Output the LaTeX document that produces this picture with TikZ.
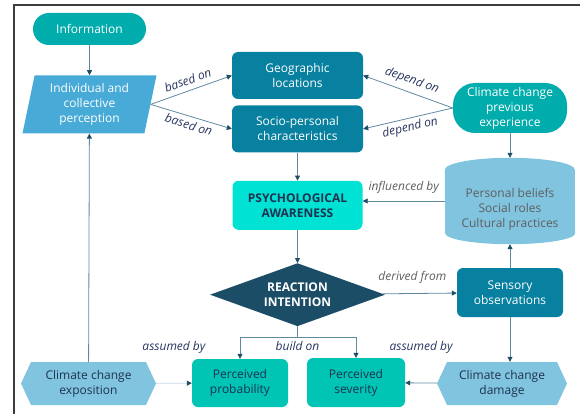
\documentclass[tikz,border=0pt]{standalone}
\usepackage{fontspec}
\setmainfont{Open Sans}
\usepackage{tikz}
\usetikzlibrary{arrows.meta,shapes.geometric,shapes.symbols,positioning,backgrounds}
\definecolor{Teal}{RGB}{0,172,172}
\definecolor{SkyBlue}{RGB}{72,170,214}
\definecolor{DeepTeal}{RGB}{8,128,160}
\definecolor{Aqua}{RGB}{0,226,212}
\definecolor{Navy}{RGB}{27,77,102}
\definecolor{Jade}{RGB}{0,196,180}
\definecolor{PaleBlue}{RGB}{128,196,224}
\definecolor{InkBlue}{RGB}{30,50,80}
\definecolor{LabelBlue}{RGB}{40,52,95}
\definecolor{LabelGray}{RGB}{95,95,95}
\definecolor{LineBlue}{RGB}{95,138,162}
\definecolor{LineLight}{RGB}{200,218,228}
\definecolor{TipBlue}{RGB}{30,78,100}
\definecolor{FrameGray}{RGB}{60,60,60}

\begin{document}
\begin{tikzpicture} [x=1pt, y=-1pt, >={Triangle[length=5pt,width=5pt,color=TipBlue]},
       every node/.style={font=\fontsize{12}{15}\selectfont, align=center},
       box/.style 2 args = {rectangle, rounded corners=6pt, minimum width=#1,
                            minimum height=48pt, inner sep=2pt, fill=#2},
       hexa/.style = {signal, signal to=east and west, signal pointer angle=130,
                      minimum width=#1, minimum height=43pt, inner sep=1pt,
                      fill=PaleBlue, text=InkBlue},
       boldtext/.style = {font=\fontsize{12}{15}\selectfont\bfseries},
       flow/.style = {->, draw=LineBlue, line width=0.8pt},
       lbl/.style = {font=\fontsize{12}{15}\selectfont\itshape, text=LabelBlue},
       lblgray/.style = {lbl, text=LabelGray}]
	\useasboundingbox (0,0) rectangle (580,414);
	\draw[FrameGray, line width=1.5pt] (14,414) -- (14,5) -- (580,5);

	%% Top row
	\node [box={113pt}{Teal}, rounded corners=16pt, minimum height=32pt, text=white] (info) at (89.5,29) {Information};
	\node [trapezium, trapezium left angle=79, trapezium right angle=101, trapezium stretches=true,
	       minimum width=134pt, minimum height=58pt, fill=SkyBlue, text=white,
	       below=30pt of info] (percep) {Individual and\\collective\\perception};
	\node [box={131pt}{DeepTeal}, minimum height=47pt, text=white] (geo) at (297.5,75.5) {Geographic\\locations};
	\node [box={131pt}{DeepTeal}, minimum height=47pt, text=white, below=6pt of geo] (socio) {Socio-personal\\characteristics};
	\node [box={114pt}{Teal}, rounded corners=22pt, minimum height=50pt, text=white] (prev) at (510,108) {Climate change\\previous\\experience};

	%% Middle
	\node [minimum width=130pt, minimum height=86pt,
	       label={[shift={(0pt,-8pt)},text=LabelGray,align=center]center:{Personal beliefs\\Social roles\\Cultural practices}}] (belief) at (510,201) {};
	\begin{scope}[on background layer]
		\fill[PaleBlue] ([yshift=-12pt]belief.north west) arc[start angle=180, end angle=0, x radius=65pt, y radius=12pt]
		      -- ([yshift=11pt]belief.south east) arc[start angle=0, end angle=-180, x radius=65pt, y radius=11pt] -- cycle;
	\end{scope}
	\node [box={130pt}{Aqua}, minimum height=49pt, boldtext, text=InkBlue, below=28pt of socio] (psych) {PSYCHOLOGICAL\\AWARENESS};
	\node [diamond, aspect=2.78, minimum width=175pt, minimum height=63pt, inner sep=0pt,
	       fill=Navy, boldtext, text=white, below=33pt of psych] (react) {REACTION\\INTENTION};
	\node [box={106pt}{DeepTeal}, minimum height=49pt, text=white] (sensory) at (510,292.5) {Sensory\\observations};

	%% Bottom row
	\node [hexa={135pt}] (expo) at (88.5,383.5) {Climate change\\exposition};
	\node [box={96pt}{Jade}, text=InkBlue] (prob) at (240,383) {Perceived\\probability};
	\node [box={98pt}{Jade}, minimum height=49pt, text=InkBlue] (sever) at (356,382.5) {Perceived\\severity};
	\node [hexa={130pt}] (damage) at (502,383.5) {Climate change\\damage};

	%% Simple paths
	\draw[flow] (info) -- (percep);
	\draw[flow] (percep.east) -- node[lbl,sloped,above=2pt] (bgeo) {based on} (geo.west);
	\draw[flow] (percep.east) -- node[lbl,sloped,below] (bsoc) {based on} (socio.west);
	\draw[flow] (prev.west) -- node[lbl,sloped,above=2pt] (dgeo) {depend on} (geo.east);
	\draw[flow] (prev.west) -- node[lbl,sloped,below] (dsoc) {depend on} (socio.east);
	\draw[flow] (prev) -- (belief);
	\draw[flow] (belief) -- node[lblgray,above=4pt] (infl) {influenced by} (belief -| psych.east);
	\draw[flow] (socio) -- (psych);
	\draw[flow] (psych) -- (react);
	\draw[flow] (react) -- node[lblgray,above=6pt,pos=0.4] (deriv) {derived from} (sensory);
	\draw[flow] (sensory) -- (belief);
	\draw[flow] (sensory) -- (sensory |- damage.north);
	\draw[flow] (damage) -- node[lbl,above=26pt] (asdam) {assumed by} (sever);
	\draw[flow, draw=LineLight] (expo) -- node[lbl,above=26pt] (asexp) {assumed by} (prob);
	\draw[flow] (expo) -- (percep);

	%% Branching paths
	\coordinate [below=11pt of react.south] (split);
	\draw[flow] (react.south) -- (split) node[lbl,below] (build) {build on} -| (prob.north);
	\draw[flow] (split) -| (sever.north);
\end{tikzpicture}
\end{document}
